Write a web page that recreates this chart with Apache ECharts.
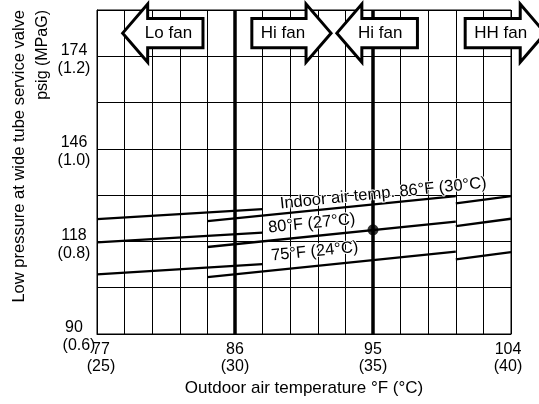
<!DOCTYPE html>
<html><head><meta charset="utf-8">
<script src="https://cdn.jsdelivr.net/npm/echarts@6/dist/echarts.min.js"></script>
<style>html,body{margin:0;padding:0;background:#fff}#c{width:539px;height:404px}</style>
</head><body><div id="c"></div>
<script>
// ---- tick labels ----
const xTickC = [25, 30, 35, 40];
const xTickF = [77, 86, 95, 104];
const yTickMPa = [0.6, 0.8, 1.0, 1.2];
const yTickPsig = [90, 118, 146, 174];

// ---- outdoor air temperature (°C) at segment ends ----
const segLoX = [25, 31];
const segHiX = [29, 38];
const segHHX = [38, 40];

// ---- low pressure (MPaG) at segment ends, per indoor air temp ----
const p86Lo = [0.848, 0.870];
const p86Hi = [0.844, 0.898];
const p86HH = [0.882, 0.898];
const p80Lo = [0.798, 0.819];
const p80Hi = [0.788, 0.843];
const p80HH = [0.833, 0.849];
const p75Lo = [0.729, 0.751];
const p75Hi = [0.723, 0.778];
const p75HH = [0.761, 0.777];

const ratingPoint = [35, 0.825];
const thickLinesC = [30, 35];
const dashedLinesC = [29, 31];

// fan zone arrows (°C)
const arrowLabels = ['Lo fan', 'Hi fan', 'Hi fan', 'HH fan'];
const arrowDir = [-1, 1, -1, 1];
const arrowTip = [25.93, 33.48, 33.69, 41.24];
const arrowTail = [28.84, 30.61, 36.61, 38.34];
const arrowText = [27.59, 31.74, 35.26, 39.63];
const arrowLevel = 1.25;

// curve labels
const curveLabels = ['Indoor air temp. 86°F (30°C)', '80°F (27°C)', '75°F (24°C)'];
const curveLabelX = [35.37, 32.78, 32.89];
const curveLabelY = [0.9035, 0.8387, 0.778];

const FONT = '"Liberation Sans", Arial, Helvetica, sans-serif';
const chart = echarts.init(document.getElementById('c'), null, {renderer: 'canvas'});

function near(a, b) { return Math.abs(a - b) < 1e-6; }

const segs = [
  [segLoX, p86Lo], [segHiX, p86Hi], [segHHX, p86HH],
  [segLoX, p80Lo], [segHiX, p80Hi], [segHHX, p80HH],
  [segLoX, p75Lo], [segHiX, p75Hi], [segHHX, p75HH]
];

const series = segs.map(function (s) {
  return {
    type: 'line', silent: true, symbol: 'none', animation: false,
    data: s[0].map(function (x, j) { return [x, s[1][j]]; }),
    lineStyle: {color: '#000', width: 2.3}, z: 4
  };
});
series.push({
  type: 'line', data: [], silent: true, animation: false,
  markLine: {
    symbol: 'none', silent: true, animation: false, label: {show: false},
    data: thickLinesC.map(function (v) { return {xAxis: v, lineStyle: {color: '#000', width: 3.5, type: 'solid'}}; })
      .concat(dashedLinesC.map(function (v) { return {xAxis: v, lineStyle: {color: '#000', width: 1, type: [9, 5]}}; }))
  }, z: 3
});
series.push({
  type: 'scatter', data: [ratingPoint], symbolSize: 11, itemStyle: {color: '#000'}, silent: true, z: 6, animation: false
});

function rs(pad, lh) {
  return {fontFamily: FONT, fontSize: 16, lineHeight: lh, color: '#000', padding: pad};
}

chart.setOption({
  animation: false,
  grid: {left: 97, right: 28, top: 10, bottom: 70, show: true, borderColor: '#000', borderWidth: 1, backgroundColor: 'transparent'},
  xAxis: {
    type: 'value', min: 25, max: 40, interval: 1,
    name: 'Outdoor air temperature °F (°C)', nameLocation: 'middle', nameGap: 42,
    nameTextStyle: {fontFamily: FONT, fontSize: 17, color: '#000'},
    axisLine: {show: true, lineStyle: {color: '#000', width: 1}},
    axisTick: {show: false},
    splitLine: {show: true, lineStyle: {color: '#000', width: 1}},
    axisLabel: {
      showMinLabel: true, showMaxLabel: true, margin: 7,
      fontFamily: FONT, fontSize: 16, lineHeight: 17, color: '#000', align: 'center',
      rich: {l: rs([0, 0, 0, 8], 17), r: rs([0, 6, 0, 0], 17), n: rs(0, 17)},
      formatter: function (v) {
        for (let i = 0; i < xTickC.length; i++) if (near(v, xTickC[i])) {
          const k = i === 0 ? 'l' : (i === xTickC.length - 1 ? 'r' : 'n');
          return '{' + k + '|' + xTickF[i] + '}\n{' + k + '|(' + xTickC[i] + ')}';
        }
        return '';
      }
    }
  },
  yAxis: {
    type: 'value', min: 0.6, max: 1.3, interval: 0.1,
    axisLine: {show: true, lineStyle: {color: '#000', width: 1}},
    axisTick: {show: false},
    splitLine: {show: true, lineStyle: {color: '#000', width: 1}},
    axisLabel: {
      showMinLabel: true, showMaxLabel: true, margin: 23, padding: [6, 0, 0, 0],
      fontFamily: FONT, fontSize: 16, lineHeight: 18, color: '#000', align: 'center',
      rich: {n: rs(0, 18), s: rs([0, 0, 0, 10], 18)},
      formatter: function (v) {
        for (let i = 0; i < yTickMPa.length; i++) if (near(v, yTickMPa[i])) {
          const k = i === 0 ? 's' : 'n';
          return '{n|' + yTickPsig[i] + '}\n{' + k + '|(' + yTickMPa[i].toFixed(1) + ')}';
        }
        return '';
      }
    }
  },
  series: series
});

// ---- overlay: arrows, curve labels, y-axis title ----
const graphics = [];
const HEAD = 25, HALF_HEAD = 29, HALF_BODY = 14.6;
for (let i = 0; i < arrowLabels.length; i++) {
  const tip = chart.convertToPixel({gridIndex: 0}, [arrowTip[i], arrowLevel]);
  const tail = chart.convertToPixel({gridIndex: 0}, [arrowTail[i], arrowLevel]);
  const tx = chart.convertToPixel({gridIndex: 0}, [arrowText[i], arrowLevel]);
  const yc = tip[1], xt = tip[0], xe = tail[0];
  const xh = xt - arrowDir[i] * HEAD;
  graphics.push({
    type: 'polygon', z: 100, silent: true,
    shape: {points: [[xt, yc], [xh, yc - HALF_HEAD], [xh, yc - HALF_BODY], [xe, yc - HALF_BODY],
      [xe, yc + HALF_BODY], [xh, yc + HALF_BODY], [xh, yc + HALF_HEAD]]},
    style: {fill: '#fff', stroke: '#000', lineWidth: 3, lineJoin: 'miter'}
  });
  graphics.push({
    type: 'text', z: 101, silent: true, x: tx[0], y: yc,
    style: {text: arrowLabels[i], fill: '#000', font: '17px ' + FONT, align: 'center', verticalAlign: 'middle'}
  });
}
for (let i = 0; i < curveLabels.length; i++) {
  const p = chart.convertToPixel({gridIndex: 0}, [curveLabelX[i], curveLabelY[i]]);
  graphics.push({
    type: 'text', z: 50, silent: true, x: p[0], y: p[1], rotation: 0.101,
    style: {text: curveLabels[i], fill: '#000', font: '16.5px ' + FONT, align: 'center', verticalAlign: 'middle',
      stroke: '#fff', lineWidth: 2}
  });
}
graphics.push({
  type: 'text', z: 50, silent: true, x: 19, y: 10, rotation: Math.PI / 2,
  style: {text: 'Low pressure at wide tube service valve', fill: '#000', font: '16.5px ' + FONT, align: 'right', verticalAlign: 'middle'}
});
graphics.push({
  type: 'text', z: 50, silent: true, x: 43, y: 10, rotation: Math.PI / 2,
  style: {text: 'psig (MPaG)', fill: '#000', font: '16px ' + FONT, align: 'right', verticalAlign: 'middle'}
});
chart.setOption({graphic: graphics});
</script>
</body></html>
